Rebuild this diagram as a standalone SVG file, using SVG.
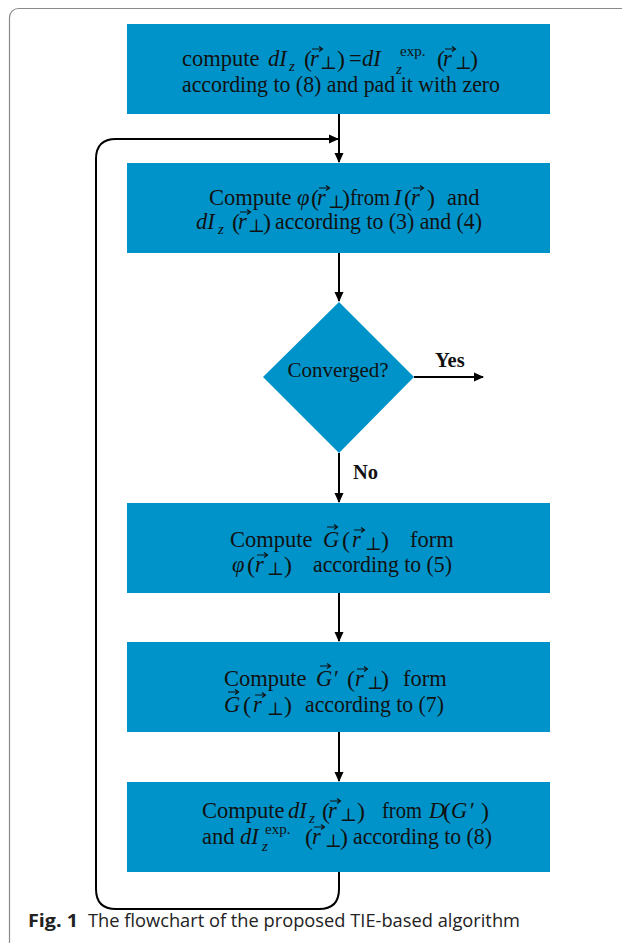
<svg xmlns="http://www.w3.org/2000/svg" width="622" height="943" viewBox="0 0 622 943">
<style>
.box{fill:#0093c9}
.t{font-family:"Liberation Serif","DejaVu Serif",serif;font-size:22.5px;fill:#111}
.i{font-style:italic}
.s{font-size:15px}
.p{font-size:24px}
.b{font-size:18px}
.lbl{font-family:"Liberation Serif","DejaVu Serif",serif;font-size:20.5px;font-weight:bold;fill:#111}
.ln{fill:none;stroke:#000;stroke-width:2}
.va{fill:none;stroke:#111;stroke-width:1.2}
.cap{font-family:"Open Sans","Noto Sans",sans-serif;font-size:18px;fill:#222}
</style>
<defs>
<marker id="ah" markerWidth="10" markerHeight="10" refX="9" refY="5" orient="auto" markerUnits="userSpaceOnUse">
<path d="M0,0.5 L10,5 L0,9.5 Z" fill="#000"/>
</marker>
<path id="va" class="va" d="M0,0 H10 M7,-2.5 L10.5,0 L7,2.5"/>
</defs>
<rect x="9.5" y="8.5" width="660" height="945" rx="9" fill="none" stroke="#8a8a8a" stroke-width="1.2"/>

<g id="connectors">
<line class="ln" x1="339" y1="114" x2="339" y2="162" marker-end="url(#ah)"/>
<path class="ln" d="M339,872 V889 Q339,909 319,909 H116 Q96,909 96,889 V159 Q96,139 116,139 H338" marker-end="url(#ah)"/>
<line class="ln" x1="339" y1="253" x2="339" y2="301" marker-end="url(#ah)"/>
<line class="ln" x1="414" y1="377" x2="483" y2="377" marker-end="url(#ah)"/>
<line class="ln" x1="339" y1="453" x2="339" y2="502" marker-end="url(#ah)"/>
<line class="ln" x1="339" y1="593" x2="339" y2="641" marker-end="url(#ah)"/>
<line class="ln" x1="339" y1="732" x2="339" y2="781" marker-end="url(#ah)"/>
<text class="lbl" x="435" y="367">Yes</text>
<text class="lbl" x="353" y="479">No</text>
</g>

<g id="n1">
<rect class="box" x="127" y="24" width="423" height="90"/>
<text class="t" y="66"><tspan x="182">compute</tspan><tspan x="268" class="i">dI</tspan><tspan x="289" y="71" class="i s">z</tspan><tspan x="304" y="67" class="p">(</tspan><tspan x="310" y="66" class="i">r</tspan><tspan x="320" y="69" class="b">⊥</tspan><tspan x="337" y="67" class="p">)</tspan><tspan x="349" y="66">=</tspan><tspan x="362" class="i">dI</tspan><tspan x="396" y="74" class="i s">z</tspan><tspan x="400" y="56" class="s">exp.</tspan><tspan x="437" y="67" class="p">(</tspan><tspan x="443" y="66" class="i">r</tspan><tspan x="455" y="69" class="b">⊥</tspan><tspan x="470" y="67" class="p">)</tspan></text>
<use href="#va" x="312" y="49"/><use href="#va" x="445" y="49"/>
<text class="t" x="182" y="92" textLength="318" lengthAdjust="spacingAndGlyphs">according to (8) and pad it with zero</text>
</g>

<g id="n2">
<rect class="box" x="127" y="163" width="423" height="90"/>
<text class="t" y="205"><tspan x="209">Compute</tspan><tspan x="297" class="i">φ</tspan><tspan x="311" y="206" class="p">(</tspan><tspan x="317" y="205" class="i">r</tspan><tspan x="328" y="208" class="b">⊥</tspan><tspan x="342" y="206" class="p">)</tspan></text>
<text class="t" x="350" y="205" textLength="40" lengthAdjust="spacingAndGlyphs">from</text>
<text class="t" y="205"><tspan x="394" class="i">I</tspan><tspan x="404" y="206" class="p">(</tspan><tspan x="411" y="205" class="i">r</tspan><tspan x="427" y="206" class="p">)</tspan><tspan x="447" y="205">and</tspan></text>
<use href="#va" x="319" y="188"/><use href="#va" x="413" y="188"/>
<text class="t" y="229"><tspan x="196" class="i">dI</tspan><tspan x="218" y="234" class="i s">z</tspan><tspan x="232" y="230" class="p">(</tspan><tspan x="238" y="229" class="i">r</tspan><tspan x="248" y="232" class="b">⊥</tspan><tspan x="263" y="230" class="p">)</tspan></text>
<use href="#va" x="240" y="212"/>
<text class="t" x="275" y="229" textLength="207" lengthAdjust="spacingAndGlyphs">according to (3) and (4)</text>
</g>

<g id="n3">
<polygon class="box" points="339,302 414,377 339,453 263,377"/>
<text class="t" x="338" y="377" text-anchor="middle" style="font-size:21px">Converged?</text>
</g>

<g id="n4">
<rect class="box" x="127" y="503" width="423" height="90"/>
<text class="t" y="547"><tspan x="230">Compute</tspan><tspan x="323" class="i">G</tspan><tspan x="342" y="548" class="p">(</tspan><tspan x="352" y="547" class="i">r</tspan><tspan x="365" y="550" class="b">⊥</tspan><tspan x="381" y="548" class="p">)</tspan><tspan x="410" y="547">form</tspan></text>
<use href="#va" x="327" y="527"/><use href="#va" x="354" y="530"/>
<text class="t" y="572"><tspan x="232" class="i">φ</tspan><tspan x="247" y="573" class="p">(</tspan><tspan x="255" y="572" class="i">r</tspan><tspan x="267" y="575" class="b">⊥</tspan><tspan x="284" y="573" class="p">)</tspan></text>
<use href="#va" x="257" y="555"/>
<text class="t" x="313" y="572" textLength="139" lengthAdjust="spacingAndGlyphs">according to (5)</text>
</g>

<g id="n5">
<rect class="box" x="127" y="642" width="423" height="90"/>
<text class="t" y="686"><tspan x="224">Compute</tspan><tspan x="316" class="i">G</tspan><tspan x="334">′</tspan><tspan x="347" y="687" class="p">(</tspan><tspan x="355" y="686" class="i">r</tspan><tspan x="367" y="689" class="b">⊥</tspan><tspan x="381" y="687" class="p">)</tspan><tspan x="403" y="686">form</tspan></text>
<use href="#va" x="320" y="666"/><use href="#va" x="357" y="669"/>
<text class="t" y="712"><tspan x="224" class="i">G</tspan><tspan x="243" y="713" class="p">(</tspan><tspan x="253" y="712" class="i">r</tspan><tspan x="267" y="715" class="b">⊥</tspan><tspan x="284" y="713" class="p">)</tspan></text>
<use href="#va" x="228" y="692"/><use href="#va" x="255" y="695"/>
<text class="t" x="305" y="712" textLength="139" lengthAdjust="spacingAndGlyphs">according to (7)</text>
</g>

<g id="n6">
<rect class="box" x="127" y="782" width="423" height="90"/>
<text class="t" y="818"><tspan x="202">Compute</tspan><tspan x="288" class="i">dI</tspan><tspan x="309" y="823" class="i s">z</tspan><tspan x="322" y="819" class="p">(</tspan><tspan x="328" y="818" class="i">r</tspan><tspan x="340" y="821" class="b">⊥</tspan><tspan x="357" y="819" class="p">)</tspan></text>
<text class="t" x="382" y="818" textLength="40" lengthAdjust="spacingAndGlyphs">from</text>
<text class="t" y="818"><tspan x="429" class="i">D</tspan><tspan x="443" y="819" class="p">(</tspan><tspan x="451" y="818" class="i">G</tspan><tspan x="470">′</tspan><tspan x="481" y="819" class="p">)</tspan></text>
<use href="#va" x="330" y="801"/>
<text class="t" y="844"><tspan x="202">and</tspan><tspan x="240" class="i">dI</tspan><tspan x="262" y="851" class="i s">z</tspan><tspan x="265" y="834" class="s">exp.</tspan><tspan x="305" y="845" class="p">(</tspan><tspan x="312" y="844" class="i">r</tspan><tspan x="325" y="847" class="b">⊥</tspan><tspan x="340" y="845" class="p">)</tspan></text>
<use href="#va" x="314" y="827"/>
<text class="t" x="353" y="844" textLength="139" lengthAdjust="spacingAndGlyphs">according to (8)</text>
</g>

<text class="cap" x="28" y="927" font-weight="bold" textLength="50" lengthAdjust="spacingAndGlyphs">Fig. 1</text>
<text class="cap" x="88" y="927" textLength="432" lengthAdjust="spacingAndGlyphs">The flowchart of the proposed TIE-based algorithm</text>
</svg>
